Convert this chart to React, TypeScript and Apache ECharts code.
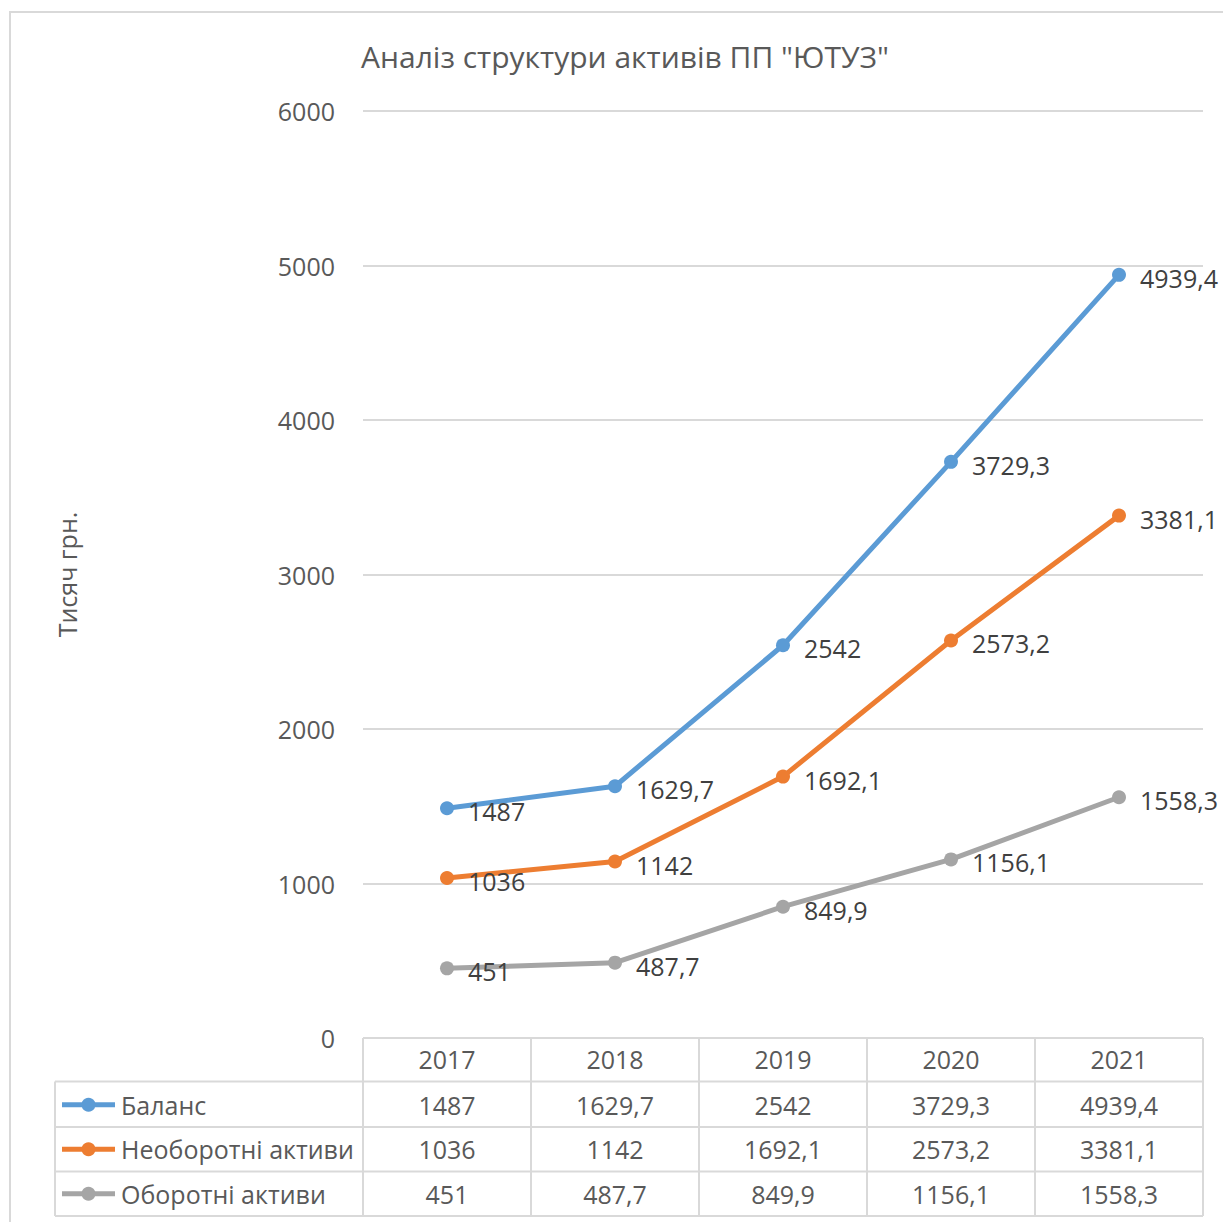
import React, { useEffect, useRef } from "react";
import * as echarts from "echarts";

const years = ["2017", "2018", "2019", "2020", "2021"];
const seriesNames = ["Баланс", "Необоротні активи", "Оборотні активи"];
const balance = [1487, 1629.7, 2542, 3729.3, 4939.4];
const nonCurrent = [1036, 1142, 1692.1, 2573.2, 3381.1];
const current = [451, 487.7, 849.9, 1156.1, 1558.3];
const colors = ["#5B9BD5", "#ED7D31", "#A5A5A5"];
const yTicks = { min: 0, max: 6000, interval: 1000 };

const FONT = "Open Sans";
const TEXT = "#595959";
const LINE = "#D9D9D9";
const FS = 25;

const fmt = (v: number) => String(v).replace(".", ",");

export default function App() {
  const ref = useRef<HTMLDivElement>(null);
  useEffect(() => {
    document.body.style.margin = "0";
    const chart = echarts.init(ref.current!, null, { renderer: "svg" });
    const W = 1223;
    const H = 1222;
    const gl = 363, gr = 20, gt = 111, gb = 184;
    const x0 = gl, x1 = W - gr, yAxis = H - gb;
    const colW = (x1 - x0) / years.length;
    const rowH = 44.5;
    const tableLeft = 55;
    const all = [balance, nonCurrent, current];

    const graphic: any[] = [];
    graphic.push({
      type: "rect",
      shape: { x: 10, y: 12, width: 1400, height: 1400 },
      style: { fill: "none", stroke: LINE, lineWidth: 2 },
      silent: true,
    });
    for (let r = 1; r <= 4; r++) {
      const y = yAxis + r * rowH - (r === 1 ? 1 : 0);
      graphic.push({
        type: "line",
        shape: { x1: tableLeft, y1: y, x2: x1, y2: y },
        style: { stroke: LINE, lineWidth: 2 },
        silent: true,
      });
    }
    graphic.push({
      type: "line",
      shape: { x1: x0, y1: yAxis, x2: x1, y2: yAxis },
      style: { stroke: LINE, lineWidth: 2 },
      silent: true,
    });
    graphic.push({
      type: "line",
      shape: { x1: tableLeft, y1: yAxis + rowH - 1, x2: tableLeft, y2: yAxis + 4 * rowH },
      style: { stroke: LINE, lineWidth: 2 },
      silent: true,
    });
    for (let c = 0; c <= years.length; c++) {
      const x = x0 + c * colW;
      graphic.push({
        type: "line",
        shape: { x1: x, y1: yAxis, x2: x, y2: yAxis + 4 * rowH },
        style: { stroke: LINE, lineWidth: 2 },
        silent: true,
      });
    }
    all.forEach((arr, i) => {
      const cy = yAxis + (i + 1.5) * rowH;
      graphic.push({
        type: "line",
        shape: { x1: 62, y1: cy, x2: 115, y2: cy },
        style: { stroke: colors[i], lineWidth: 5 },
        silent: true,
      });
      graphic.push({
        type: "circle",
        shape: { cx: 88.5, cy, r: 7 },
        style: { fill: colors[i] },
        silent: true,
      });
      graphic.push({
        type: "text",
        x: 121,
        y: cy,
        style: {
          text: seriesNames[i],
          font: `${FS}px "${FONT}"`,
          fill: TEXT,
          textAlign: "left",
          textVerticalAlign: "middle",
        },
        silent: true,
      });
      arr.forEach((v, j) => {
        graphic.push({
          type: "text",
          x: x0 + (j + 0.5) * colW,
          y: cy,
          style: {
            text: fmt(v),
            font: `${FS}px "${FONT}"`,
            fill: TEXT,
            textAlign: "center",
            textVerticalAlign: "middle",
          },
          silent: true,
        });
      });
    });

    chart.setOption({
      animation: false,
      backgroundColor: "#fff",
      title: {
        text: 'Аналіз структури активів ПП "ЮТУЗ"',
        left: 620,
        top: 36,
        textAlign: "center",
        textStyle: { fontFamily: FONT, fontSize: 30, fontWeight: "normal", color: TEXT },
      },
      grid: { left: gl, right: gr, top: gt, bottom: gb },
      xAxis: {
        type: "category",
        data: years,
        axisLine: { show: false },
        axisTick: { show: false },
        axisLabel: {
          margin: 8,
          fontFamily: FONT,
          fontSize: FS,
          color: TEXT,
        },
      },
      yAxis: {
        type: "value",
        min: yTicks.min,
        max: yTicks.max,
        interval: yTicks.interval,
        name: "Тисяч грн.",
        nameLocation: "middle",
        nameGap: 284,
        nameRotate: 90,
        nameTextStyle: { fontFamily: FONT, fontSize: FS, color: TEXT },
        axisLine: { show: false },
        axisTick: { show: false },
        splitLine: { lineStyle: { color: LINE, width: 2 } },
        axisLabel: {
          margin: 28,
          fontFamily: FONT,
          fontSize: FS,
          color: TEXT,
          formatter: (v: number) => String(v),
        },
      },
      series: all.map((arr, i) => ({
        type: "line",
        name: seriesNames[i],
        data: arr,
        symbol: "circle",
        symbolSize: 14,
        itemStyle: { color: colors[i] },
        lineStyle: { color: colors[i], width: 5 },
        label: {
          show: true,
          position: "right",
          distance: 14,
          offset: [0, 3],
          formatter: (p: any) => fmt(p.value),
          fontFamily: FONT,
          fontSize: FS,
          color: "#404040",
        },
        z: 3 - i,
      })),
      graphic,
    });
    return () => chart.dispose();
  }, []);
  return <div ref={ref} style={{ width: 1223, height: 1222 }} />;
}
